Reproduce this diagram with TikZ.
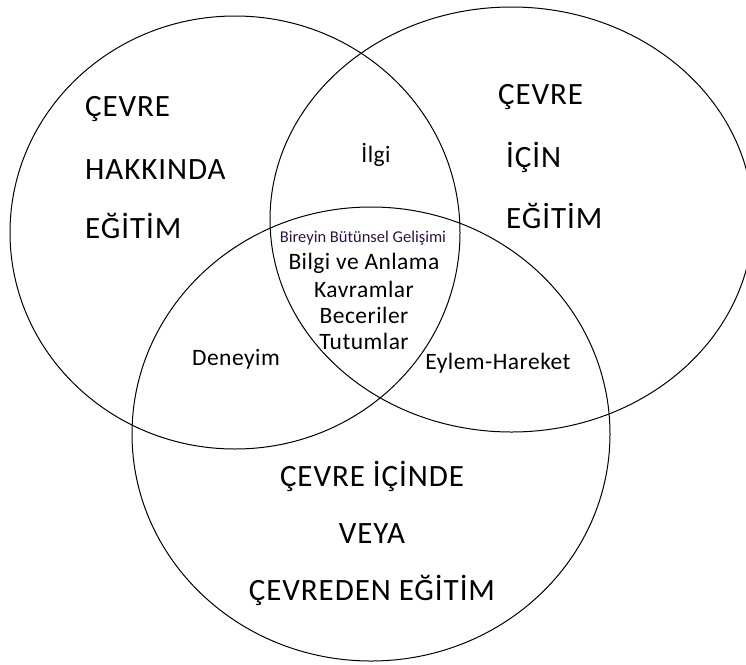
\documentclass[tikz,border=0pt]{standalone}
\usepackage{fontspec}
\setmainfont{Carlito}
\definecolor{smalltext}{RGB}{45,20,70}
\begin{document}
\begin{tikzpicture}[x=1pt,y=-1pt,
  ring/.style={draw=black,line width=1pt},
  big/.style={inner sep=0pt,font=\fontsize{31}{36}\selectfont\addfontfeatures{LetterSpace=3}},
  mid/.style={inner sep=0pt,font=\fontsize{23.5}{28}\selectfont\addfontfeatures{LetterSpace=2}},
  small/.style={inner sep=0pt,font=\fontsize{16.5}{19}\selectfont,text=smalltext}]
\useasboundingbox (0,0) rectangle (746,664);
\clip (0,0) rectangle (746,664);
% circles
\coordinate (cL) at (235,232.5);
\coordinate (cR) at (511.5,219.5);
\coordinate (cB) at (371,434);
\draw[ring] (cL) ellipse [x radius=225pt, y radius=216.5pt];
\draw[ring] (cR) ellipse [x radius=241.5pt, y radius=212.5pt];
\draw[ring] (cB) ellipse [x radius=239pt, y radius=227pt];
% left block
\node[big,anchor=base west] (l1) at (85,116) {ÇEVRE};
\node[big,anchor=base west] (l2) at (85,179) {HAKKINDA};
\node[big,anchor=base west] (l3) at (85,238) {EĞİTİM};
% right block
\node[big,anchor=base west] (r1) at (498,104) {ÇEVRE};
\node[big,anchor=base west] (r2) at (506,167) {İÇİN};
\node[big,anchor=base west] (r3) at (506,228) {EĞİTİM};
% bottom block
\node[big,anchor=base] (b1) at (372,486) {ÇEVRE İÇİNDE};
\node[big,anchor=base] (b2) at (372,543) {VEYA};
\node[big,anchor=base] (b3) at (372,600) {ÇEVREDEN EĞİTİM};
% pairwise labels
\node[mid,anchor=base] (ilgi) at (376,162) {İlgi};
\node[mid,anchor=base] (den) at (236,365) {Deneyim};
\node[mid,anchor=base] (eyl) at (498,369) {Eylem-Hareket};
% centre
\node[small,anchor=base] (c0) at (363,242) {Bireyin Bütünsel Gelişimi};
\node[mid,anchor=base] (c1) at (364,269) {Bilgi ve Anlama};
\node[mid,anchor=base] (c2) at (364,297) {Kavramlar};
\node[mid,anchor=base] (c3) at (364,323) {Beceriler};
\node[mid,anchor=base] (c4) at (364,349) {Tutumlar};
\end{tikzpicture}
\end{document}
